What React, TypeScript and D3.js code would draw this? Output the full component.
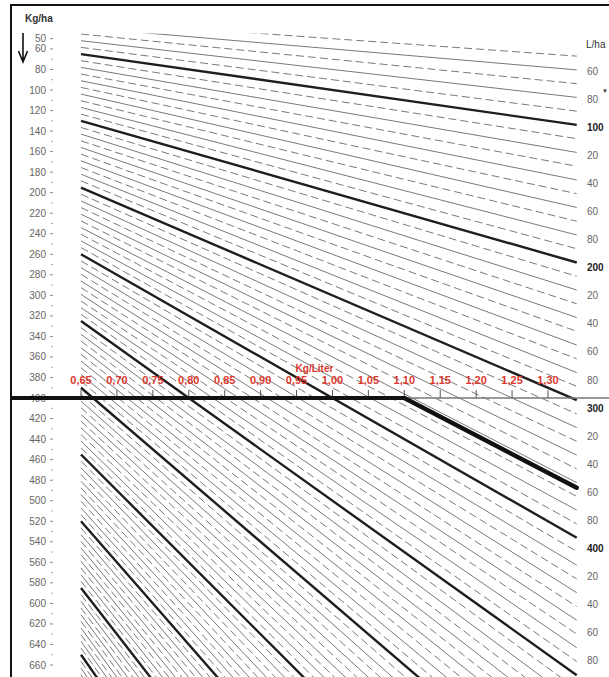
import React from "react";
import * as d3 from "d3";

// left axis (Kg/ha)
const kgTicks = [50, 60, 80, 100, 120, 140, 160, 180, 200, 220, 240, 260, 280, 300, 320, 340, 360, 380,
  400, 420, 440, 460, 480, 500, 520, 540, 560, 580, 600, 620, 640, 660];
const kgMinorTicks = [70, 90, 110, 130, 150, 170, 190, 210, 230, 250, 270, 290, 310, 330, 350, 370, 390,
  410, 430, 450, 470, 490, 510, 530, 550, 570, 590, 610, 630, 650];

// middle axis (Kg/Liter)
const densityTicks = [0.65, 0.70, 0.75, 0.80, 0.85, 0.90, 0.95, 1.00, 1.05, 1.10, 1.15, 1.20, 1.25, 1.30];

// one line per L/ha value
const rateLines = [50, 60, 70, 80, 90, 100, 110, 120, 130, 140, 150, 160, 170, 180, 190, 200,
  210, 220, 230, 240, 250, 260, 270, 280, 290, 300, 310, 320, 330, 340, 350, 360, 370, 380, 390, 400,
  410, 420, 430, 440, 450, 460, 470, 480, 490, 500, 510, 520, 530, 540, 550, 560, 570, 580, 590, 600,
  610, 620, 630, 640, 650, 660, 670, 680, 690, 700, 710, 720, 730, 740, 750, 760, 770, 780, 790, 800,
  810, 820, 830, 840, 850, 860, 870, 880, 890, 900, 910, 920, 930, 940, 950, 960, 970, 980, 990, 1000,
  1010, 1020, 1030];

// right axis (L/ha)
const rateLabels = [60, 80, 100, 120, 140, 160, 180, 200, 220, 240, 260, 280, 300, 320, 340, 360, 380,
  400, 420, 440, 460, 480];

// worked example: 400 Kg/ha at 1,10 Kg/Liter
const exampleKg = 400;
const exampleDensity = 1.10;

const densityStart = 0.65;
const densityEnd = 1.34;
const labelDensity = 1.366;
const kgTop = 45;

const width = 609;
const height = 677;
const font = "'Liberation Sans', Arial, sans-serif";

function Nomogram() {
  const y = d3.scaleLinear().domain([100, 660]).range([90, 665]);
  const x = d3.scaleLinear().domain([0.65, 1.30]).range([81, 548]);

  const line = d3.line<[number, number]>()
    .x((d) => x(d[0]))
    .y((d) => y(d[1]));

  const fmt = (d: number) => d.toFixed(2).replace(".", ",");
  const axisY = y(exampleKg);
  const exampleRate = exampleKg / exampleDensity;

  return (
    <svg width={width} height={height} style={{display: "block", background: "#fff"}}>
      <defs>
        <clipPath id="plot">
          <rect x={0} y={y(kgTop)} width={width} height={height - y(kgTop)} />
        </clipPath>
      </defs>

      {/* frame */}
      <path d={`M11,${height + 5} V5 H${width + 5}`} fill="none" stroke="#111" strokeWidth={2} />

      {/* L/ha lines */}
      <g clipPath="url(#plot)">
        {rateLines.map((v) => {
          const thick = v % 100 === 0;
          const solid = v % 20 === 0;
          return (
            <path key={v}
              d={line([[densityStart, v * densityStart], [densityEnd, v * densityEnd]]) as string}
              fill="none"
              stroke={thick ? "#1e1e1e" : "#6a6a6a"}
              strokeWidth={thick ? 2.4 : 0.9}
              strokeDasharray={thick || solid ? undefined : "8,4"} />
          );
        })}
      </g>

      {/* left axis */}
      <text x={25} y={22} fontFamily={font} fontSize={10} fontWeight="bold" fill="#333">Kg/ha</text>
      <path d="M23,33 V61 M18.5,51 L23,62 L27.5,51" fill="none" stroke="#111" strokeWidth={1.6} />
      <g fontFamily={font} fontSize={10} fill="#666">
        {kgTicks.map((k) => (
          <g key={k}>
            <text x={46} y={y(k)} dy="0.35em" textAnchor="end">{k}</text>
            <line x1={50} x2={53} y1={y(k)} y2={y(k)} stroke="#888" strokeWidth={1} />
          </g>
        ))}
        {kgMinorTicks.map((k) => (
          <line key={k} x1={51} x2={53} y1={y(k)} y2={y(k)} stroke="#aaa" strokeWidth={1} />
        ))}
      </g>

      {/* right axis */}
      <text x={586} y={48} fontFamily={font} fontSize={10} fill="#333">L/ha</text>
      <text x={602} y={93} fontFamily={font} fontSize={6} fill="#333">▼</text>
      <g fontFamily={font} fontSize={10}>
        {rateLabels.map((v) => (
          <text key={v} x={587} y={y(v * labelDensity)} dy="0.35em"
            fontWeight={v % 100 === 0 ? "bold" : "normal"}
            fill={v % 100 === 0 ? "#222" : "#666"}>
            {v % 100 === 0 ? v : v % 100}
          </text>
        ))}
      </g>

      {/* density axis */}
      <line x1={11} x2={width} y1={axisY} y2={axisY} stroke="#777" strokeWidth={1.5} />
      {densityTicks.map((d) => (
        <line key={d} x1={x(d)} x2={x(d)} y1={axisY - 8} y2={axisY} stroke="#555" strokeWidth={1} />
      ))}
      <g fontFamily={font} fontSize={11} fontWeight="bold" fill="#d9392f" textAnchor="middle">
        {densityTicks.map((d) => (
          <text key={d} x={x(d)} y={axisY - 14}>{fmt(d)}</text>
        ))}
        <text x={x(0.975)} y={axisY - 26} fontSize={10}>Kg/Liter</text>
      </g>

      {/* worked example */}
      <line x1={11} x2={x(exampleDensity)} y1={axisY} y2={axisY} stroke="#111" strokeWidth={4} />
      <path d={line([[exampleDensity, exampleRate * exampleDensity], [densityEnd, exampleRate * densityEnd]]) as string}
        fill="none" stroke="#111" strokeWidth={4.5} strokeLinecap="round" />
    </svg>
  );
}

export default function App() {
  return (
    <div>
      <style>{`body{margin:0}`}</style>
      <Nomogram />
    </div>
  );
}
